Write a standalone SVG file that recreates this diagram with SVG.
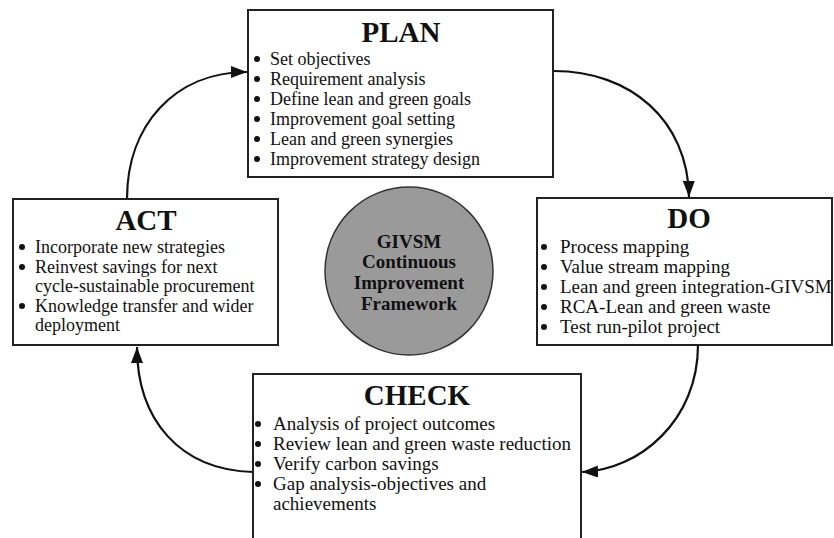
<svg xmlns="http://www.w3.org/2000/svg" width="834" height="538" viewBox="0 0 834 538">
<style>
.box{fill:#fff;stroke:#222;stroke-width:2}
.title{font-family:"Liberation Serif","Times New Roman",serif;font-weight:bold;font-size:29px;fill:#111;text-anchor:middle}
.item{font-family:"Liberation Serif","Times New Roman",serif;font-size:19px;fill:#111}
.sm{font-size:18px}
.dot{fill:#111}
.hub{fill:#9a9a9a;stroke:#333;stroke-width:1.5}
.hubtxt{font-family:"Liberation Serif","Times New Roman",serif;font-weight:bold;font-size:19px;fill:#111;text-anchor:middle}
.conn{fill:none;stroke:#111;stroke-width:2.2;marker-end:url(#ah)}
</style>
<defs>
<marker id="ah" markerUnits="userSpaceOnUse" markerWidth="16" markerHeight="12" refX="16" refY="6" orient="auto">
<path d="M0,0 L16,6 L0,12 z" fill="#111"/>
</marker>
</defs>
<rect width="834" height="538" fill="#fff"/>
<g id="connectors">
<path class="conn" d="M127,199 C127,125 175,72 247,72"/>
<path class="conn" d="M554,71 C630,71 688,120 689,197"/>
<path class="conn" d="M698,345 C698,420 640,470 582,472"/>
<path class="conn" d="M253,472 C180,470 137,420 137,347"/>
</g>
<g id="plan">
<rect class="box" x="248" y="10" width="305" height="167"/>
<text class="title" x="401" y="42">PLAN</text>
<circle class="dot" cx="257" cy="59" r="3"/><text class="item sm" x="270" y="65">Set objectives</text>
<circle class="dot" cx="257" cy="79" r="3"/><text class="item sm" x="270" y="85">Requirement analysis</text>
<circle class="dot" cx="257" cy="99" r="3"/><text class="item sm" x="270" y="105">Define lean and green goals</text>
<circle class="dot" cx="257" cy="119" r="3"/><text class="item sm" x="270" y="125">Improvement goal setting</text>
<circle class="dot" cx="257" cy="139" r="3"/><text class="item sm" x="270" y="145">Lean and green synergies</text>
<circle class="dot" cx="257" cy="159" r="3"/><text class="item sm" x="270" y="165">Improvement strategy design</text>
</g>
<g id="act">
<rect class="box" x="13" y="199" width="265" height="146"/>
<text class="title" x="146" y="230">ACT</text>
<circle class="dot" cx="22" cy="247" r="3"/><text class="item sm" x="35" y="253">Incorporate new strategies</text>
<circle class="dot" cx="22" cy="267" r="3"/><text class="item sm" x="35" y="273">Reinvest savings for next</text>
<text class="item sm" x="35" y="292">cycle-sustainable procurement</text>
<circle class="dot" cx="22" cy="306" r="3"/><text class="item sm" x="35" y="312">Knowledge transfer and wider</text>
<text class="item sm" x="35" y="331">deployment</text>
</g>
<g id="do">
<rect class="box" x="537" y="198" width="295" height="147"/>
<text class="title" x="689" y="228">DO</text>
<circle class="dot" cx="544" cy="247" r="3"/><text class="item" x="560" y="253">Process mapping</text>
<circle class="dot" cx="544" cy="267" r="3"/><text class="item" x="560" y="273">Value stream mapping</text>
<circle class="dot" cx="544" cy="287" r="3"/><text class="item" x="560" y="293">Lean and green integration-GIVSM</text>
<circle class="dot" cx="544" cy="307" r="3"/><text class="item" x="560" y="313">RCA-Lean and green waste</text>
<circle class="dot" cx="544" cy="327" r="3"/><text class="item" x="560" y="333">Test run-pilot project</text>
</g>
<g id="check">
<rect class="box" x="253" y="374" width="328" height="180"/>
<text class="title" x="417" y="405">CHECK</text>
<circle class="dot" cx="258" cy="424" r="3"/><text class="item" x="273" y="430">Analysis of project outcomes</text>
<circle class="dot" cx="258" cy="444" r="3"/><text class="item" x="273" y="450">Review lean and green waste reduction</text>
<circle class="dot" cx="258" cy="464" r="3"/><text class="item" x="273" y="470">Verify carbon savings</text>
<circle class="dot" cx="258" cy="484" r="3"/><text class="item" x="273" y="490">Gap analysis-objectives and</text>
<text class="item" x="273" y="510">achievements</text>
</g>
<g id="hub">
<circle class="hub" cx="409" cy="271" r="84"/>
<text class="hubtxt" x="409" y="248">GIVSM</text>
<text class="hubtxt" x="409" y="268">Continuous</text>
<text class="hubtxt" x="409" y="289">Improvement</text>
<text class="hubtxt" x="409" y="310">Framework</text>
</g>
</svg>
